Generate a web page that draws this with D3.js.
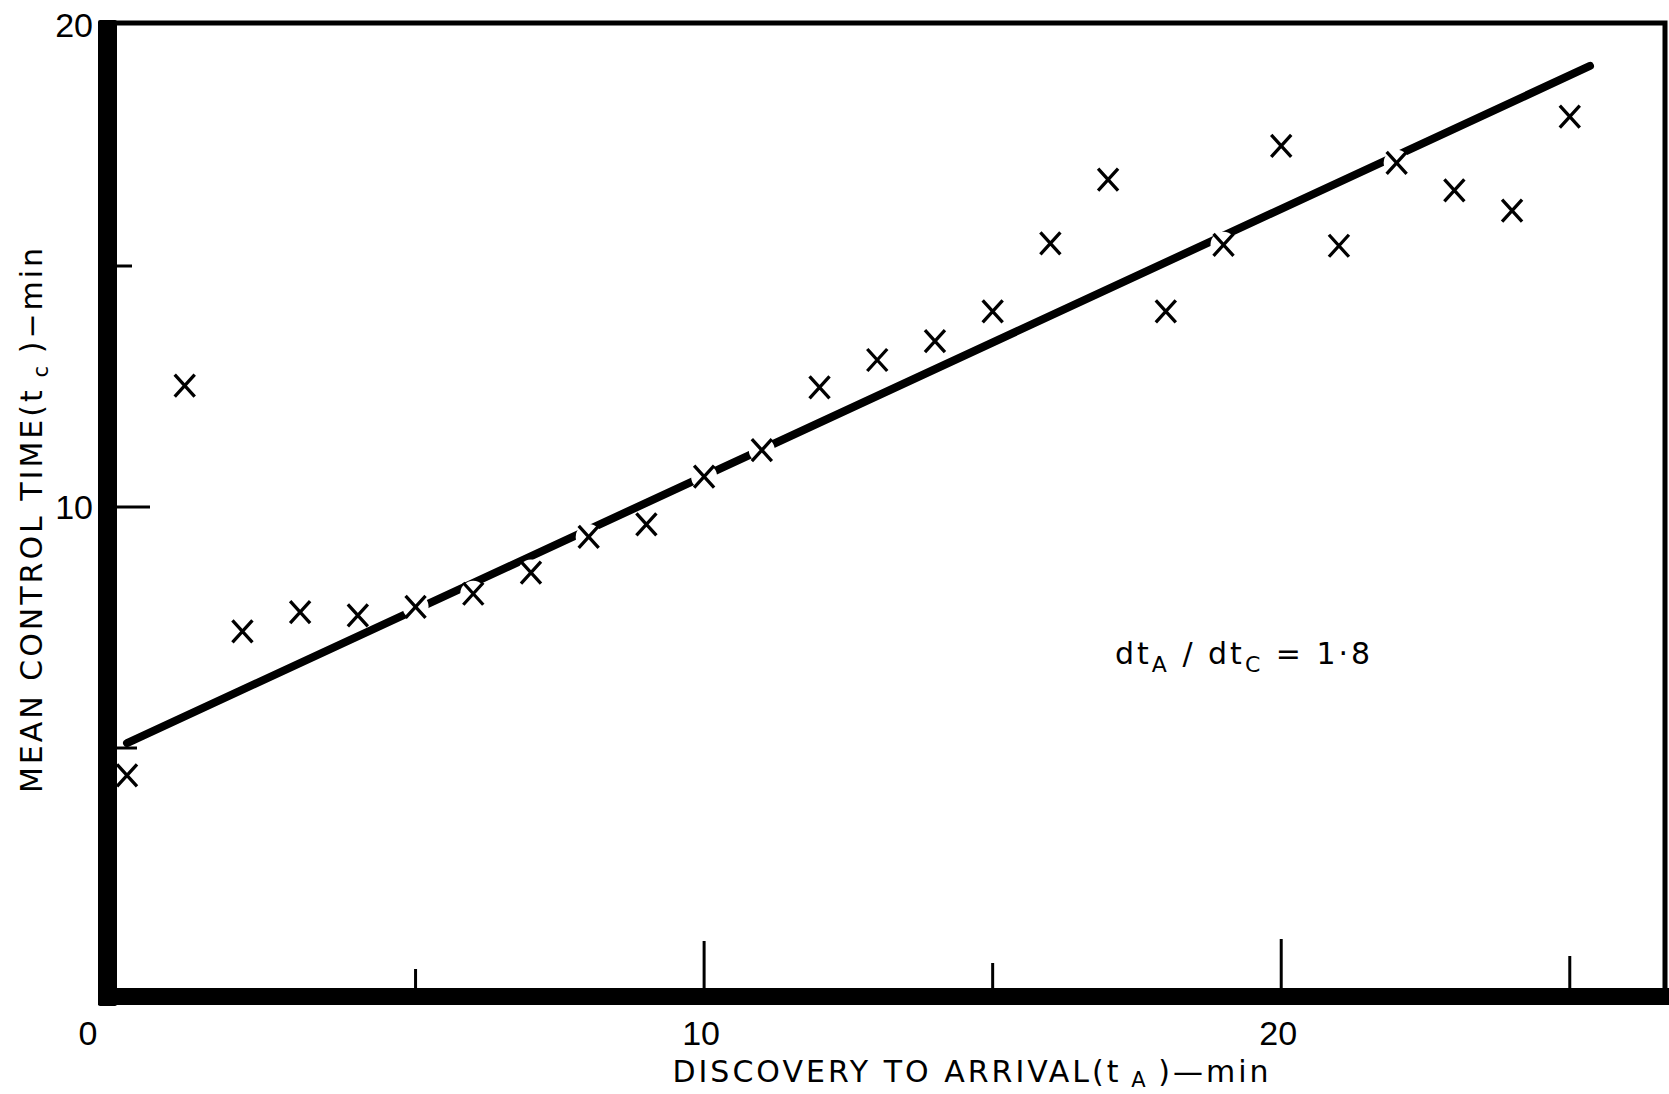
<!DOCTYPE html>
<html>
<head>
<meta charset="utf-8">
<script src="https://cdn.jsdelivr.net/npm/d3@7"></script>
<style>
  body { margin: 0; background: #fff; }
  text { font-family: "DejaVu Sans", sans-serif; fill: #000; }
  .tick-label { font-family: "Liberation Sans", sans-serif; }
</style>
</head>
<body>
<div id="chart"></div>
<script>
// discovery to arrival (min) and mean control time (min)
const tA = [0, 1, 2, 3, 4, 5, 6, 7, 8, 9, 10, 11, 12, 13, 14, 15, 16, 17, 18, 19, 20, 21, 22, 23, 24, 25];
const tC = [4.43, 12.52, 7.42, 7.82, 7.75, 7.93, 8.20, 8.64, 9.38, 9.64, 10.63, 11.18, 12.48, 13.05,
            13.44, 14.06, 15.47, 16.79, 14.06, 15.44, 17.49, 15.42, 17.14, 16.57, 16.15, 18.10];

// fitted line end points
const fitX = [0, 25.35];
const fitY = [5.1, 19.15];

const xTicks = [5, 10, 15, 20, 25];
const xTickLabels = [10, 20];
const yTicks = [5, 10, 15];
const yTickLabels = [10, 20];

const width = 1669;
const height = 1094;

const x = d3.scaleLinear().domain([0, 26.65]).range([127, 1665]);
const y = d3.scaleLinear().domain([0, 20]).range([989, 25]);

const svg = d3.select("#chart")
    .append("svg")
    .attr("width", width)
    .attr("height", height)
    .attr("viewBox", [0, 0, width, height]);

// thin top and right border
svg.append("path")
    .attr("d", `M${x(0) - 20},${y(20) - 2} H${width - 4} Q${width - 4},${y(20) - 2} ${width - 4},${y(20) + 4} V${y(0)}`)
    .attr("fill", "none")
    .attr("stroke", "#000")
    .attr("stroke-width", 5);

// x ticks rising from the bottom bar
const xLen = {5: 20, 10: 48, 15: 26, 20: 50, 25: 33};
svg.append("g")
    .selectAll("line")
    .data(xTicks)
    .join("line")
    .attr("x1", d => x(d))
    .attr("x2", d => x(d))
    .attr("y1", y(0))
    .attr("y2", d => y(0) - xLen[d])
    .attr("stroke", "#000")
    .attr("stroke-width", 3);

svg.append("g")
    .selectAll("text")
    .data(xTickLabels)
    .join("text")
    .attr("class", "tick-label")
    .attr("x", d => x(d) - 3)
    .attr("y", 1045)
    .attr("text-anchor", "middle")
    .style("font-size", "34px")
    .text(d => d);

svg.append("text")
    .attr("class", "tick-label")
    .attr("x", 88)
    .attr("y", 1045)
    .attr("text-anchor", "middle")
    .style("font-size", "34px")
    .text("0");

// y ticks pointing into the plot
const yLen = {5: 21, 10: 34, 15: 16};
svg.append("g")
    .selectAll("line")
    .data(yTicks)
    .join("line")
    .attr("x1", x(0) - 11)
    .attr("x2", d => x(0) - 11 + yLen[d])
    .attr("y1", d => y(d))
    .attr("y2", d => y(d))
    .attr("stroke", "#000")
    .attr("stroke-width", 3);

svg.append("g")
    .selectAll("text")
    .data(yTickLabels)
    .join("text")
    .attr("class", "tick-label")
    .attr("x", 93)
    .attr("y", d => y(d))
    .attr("dy", "0.36em")
    .attr("text-anchor", "end")
    .style("font-size", "34px")
    .text(d => d);

// fitted line
svg.append("line")
    .attr("x1", x(fitX[0]))
    .attr("y1", y(fitY[0]))
    .attr("x2", x(fitX[1]))
    .attr("y2", y(fitY[1]))
    .attr("stroke", "#000")
    .attr("stroke-width", 8)
    .attr("stroke-linecap", "round");

// crosses, with a white patch that breaks the line under them
const pts = tA.map((d, i) => [d, tC[i]]);
const marks = svg.append("g")
    .selectAll("g")
    .data(pts)
    .join("g")
    .attr("transform", d => `translate(${x(d[0])},${y(d[1])})`);

marks.append("circle")
    .attr("r", 13)
    .attr("fill", "#fff");

marks.append("path")
    .attr("d", "M-10,-11L10,11M10,-11L-10,11")
    .attr("stroke", "#000")
    .attr("stroke-width", 3.3)
    .attr("fill", "none");

// heavy left and bottom axis bars, drawn over the marks
svg.append("rect")
    .attr("x", x(0) - 29)
    .attr("y", y(20) - 5)
    .attr("width", 19)
    .attr("height", y(0) - y(20) + 22)
    .attr("rx", 2)
    .attr("fill", "#000");

svg.append("rect")
    .attr("x", x(0) - 29)
    .attr("y", y(0) - 1)
    .attr("width", width - x(0) + 29)
    .attr("height", 17)
    .attr("fill", "#000");

// annotation
const ann = svg.append("text")
    .attr("x", 1115)
    .attr("y", 664)
    .style("font-size", "30px")
    .style("letter-spacing", "3px");
ann.append("tspan").text("dt");
ann.append("tspan").attr("dy", 8).style("font-size", "22px").text("A");
ann.append("tspan").attr("dy", -8).text(" / dt");
ann.append("tspan").attr("dy", 8).style("font-size", "22px").text("C");
ann.append("tspan").attr("dy", -8).text(" = 1·8");

// axis titles
const xt = svg.append("text")
    .attr("x", 972)
    .attr("y", 1082)
    .attr("text-anchor", "middle")
    .style("font-size", "30px")
    .style("letter-spacing", "3px");
xt.append("tspan").text("DISCOVERY TO ARRIVAL(t");
xt.append("tspan").attr("dy", 5).style("font-size", "21px").text(" A ");
xt.append("tspan").attr("dy", -5).text(")—min");

const yt = svg.append("text")
    .attr("transform", `translate(42,${519}) rotate(-90)`)
    .attr("text-anchor", "middle")
    .style("font-size", "30px")
    .style("letter-spacing", "3px");
yt.append("tspan").text("MEAN  CONTROL TIME(t");
yt.append("tspan").attr("dy", 6).style("font-size", "21px").text(" c ");
yt.append("tspan").attr("dy", -6).text(")−min");
</script>
</body>
</html>
